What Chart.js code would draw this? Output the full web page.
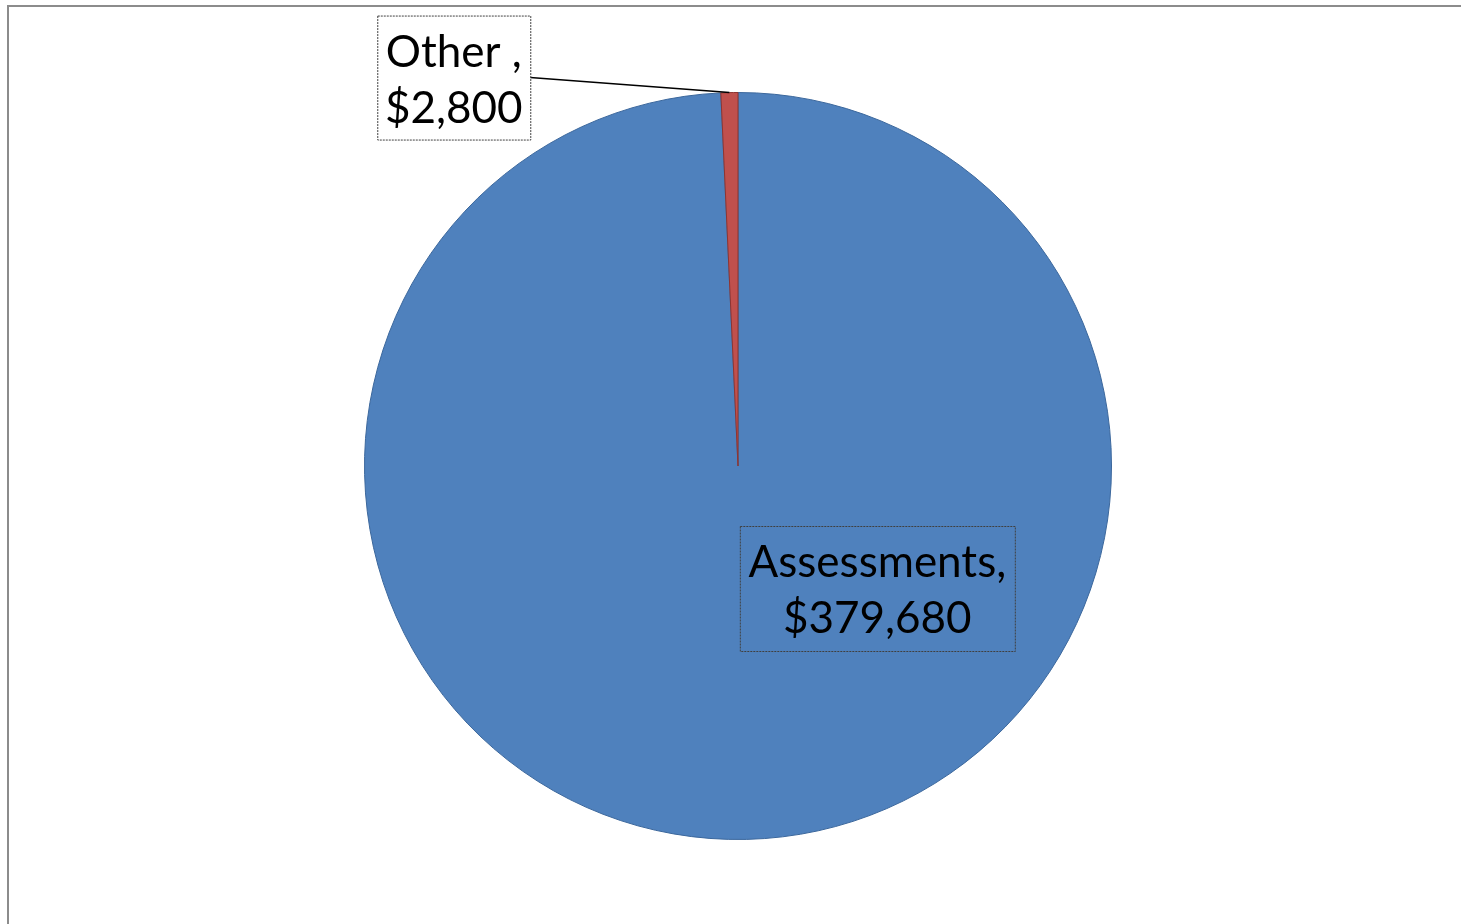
<!DOCTYPE html>
<html>
<head>
<meta charset="utf-8">
<script src="https://cdn.jsdelivr.net/npm/chart.js@4"></script>
<style>
  html, body { margin: 0; padding: 0; background: #fff; }
  #wrap { position: relative; width: 1461px; height: 924px; }
</style>
</head>
<body>
<div id="wrap"><canvas id="myChart" width="1461" height="924"></canvas></div>
<script>
const categories = ['Assessments', 'Other ']
const amounts = [379680, 2800]
const sliceColors = ['#4F81BD', '#C0504D']
const sliceBorders = ['#3B679C', '#8E3431']

const LABEL_FONT = '44px Lato'

function money(v) {
    return '$' + v.toLocaleString('en-US')
}

// label boxes placed relative to the pie (fractions of radius)
const labelSpots = [
    { dx: 0.373, dy: 0.328, w: 275, h: 125, leader: false },
    { dx: -0.761, dy: -1.040, w: 153, h: 124, leader: true },
]

const framePlugin = {
    id: 'frame',
    beforeDraw(chart) {
        const ctx = chart.ctx
        ctx.save()
        ctx.strokeStyle = '#8c8c8c'
        ctx.lineWidth = 2
        ctx.strokeRect(8, 6, 1480, 960)
        ctx.restore()
    },
}

const labelPlugin = {
    id: 'boxLabels',
    afterDatasetsDraw(chart) {
        const ctx = chart.ctx
        const meta = chart.getDatasetMeta(0)
        meta.data.forEach((arc, i) => {
            const spot = labelSpots[i]
            const r = arc.outerRadius
            const bx = arc.x + spot.dx * r - spot.w / 2
            const by = arc.y + spot.dy * r - spot.h / 2
            ctx.save()
            if (spot.leader) {
                const mid = (arc.startAngle + arc.endAngle) / 2
                ctx.beginPath()
                ctx.strokeStyle = '#000'
                ctx.lineWidth = 1.5
                ctx.moveTo(bx + spot.w, by + 62)
                ctx.lineTo(arc.x + Math.cos(mid) * r, arc.y + Math.sin(mid) * r)
                ctx.stroke()
                ctx.fillStyle = '#fff'
                ctx.fillRect(bx, by, spot.w, spot.h)
            }
            ctx.setLineDash([2, 1])
            ctx.strokeStyle = '#404040'
            ctx.lineWidth = 1
            ctx.strokeRect(bx + 0.5, by + 0.5, spot.w, spot.h)
            ctx.setLineDash([])
            ctx.fillStyle = '#000'
            ctx.font = LABEL_FONT
            ctx.textAlign = 'center'
            ctx.textBaseline = 'alphabetic'
            const cxText = bx + spot.w / 2
            ctx.fillText(chart.data.labels[i] + ',', cxText, by + 51)
            ctx.fillText(money(chart.data.datasets[0].data[i]), cxText, by + 107)
            ctx.restore()
        })
    },
}

function render_chart() {
    const data = {
        labels: categories,
        datasets: [
            {
                data: amounts,
                backgroundColor: sliceColors,
                borderColor: sliceBorders,
                borderWidth: 1,
            },
        ],
    }

    const config = {
        type: 'pie',
        data: data,
        options: {
            responsive: false,
            animation: false,
            layout: { padding: { top: 92, bottom: 84, left: 15, right: 0 } },
            plugins: {
                legend: { display: false },
                tooltip: { enabled: false },
            },
        },
        plugins: [framePlugin, labelPlugin],
    }

    const myChart = new Chart(document.getElementById('myChart'), config)
}

document.addEventListener('DOMContentLoaded', render_chart)
</script>
</body>
</html>
